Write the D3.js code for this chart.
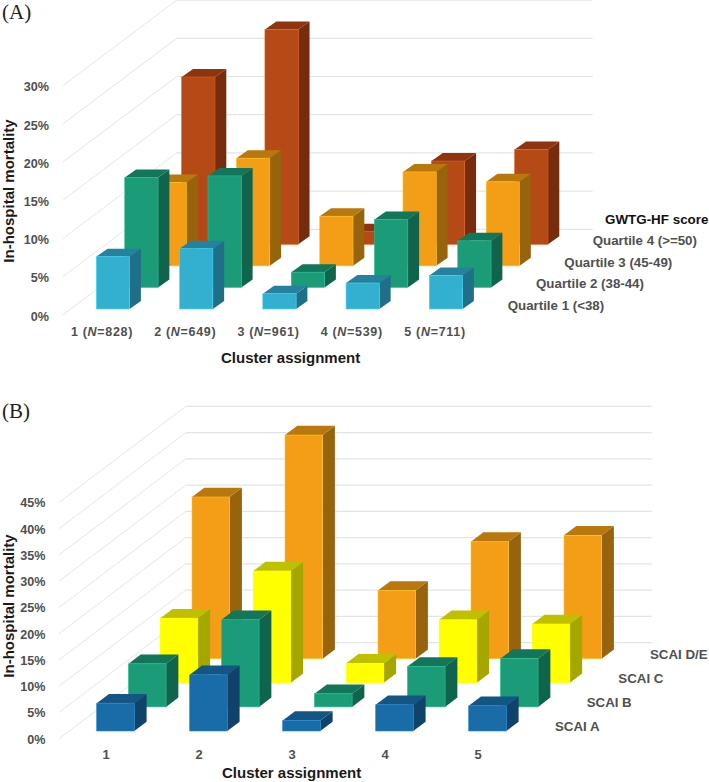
<!DOCTYPE html>
<html>
<head>
<meta charset="utf-8">
<script src="https://cdn.jsdelivr.net/npm/d3@7"></script>
<style>
	html, body { margin:0; padding:0; background:#fff; }
	text { font-family:"Liberation Sans", Arial, sans-serif; font-weight:bold; }
	.tag { font-family:"Liberation Serif", serif; font-weight:normal; font-size:21px; fill:#222; }
	.title { font-size:15px; fill:#1a1a1a; }
	.tick-y text { font-size:12.6px; fill:#505050; }
	.legend { font-size:13.3px; fill:#505050; }
</style>
</head>
<body>
<svg id="chart" width="709" height="782"></svg>
<script>
// Panel A values, % in-hospital mortality per cluster
const clustersA = ['828','649','961','539','711'];
const quartile1 = [6.85, 7.9, 2.0, 3.4, 4.4];
const quartile2 = [14.4, 14.6, 2.0, 8.9, 6.1];
const quartile3 = [10.9, 14.1, 6.5, 12.3, 11.0];
const quartile4 = [21.9, 28.1, 1.65, 10.9, 12.4];
const quartileNames = ['Quartile 1 (<38)','Quartile 2 (38-44)','Quartile 3 (45-49)','Quartile 4 (>=50)'];
const ticksA = [0,5,10,15,20,25,30];

// Panel B values
const clustersB = ['1','2','3','4','5'];
const scaiA = [5.3, 10.7, 2.0, 5.0, 4.8];
const scaiB = [8.2, 16.6, 2.5, 7.7, 9.2];
const scaiC = [12.3, 21.3, 3.7, 12.0, 11.2];
const scaiDE = [30.8, 42.6, 13.0, 22.3, 23.5];
const scaiNames = ['SCAI A','SCAI B','SCAI C','SCAI D/E'];
const ticksB = [0,5,10,15,20,25,30,35,40,45];

// front, top, side
const blue = ['#33afd0','#26819f','#206f89'];
const green = ['#1c9b78','#137559','#10634c'];
const orange = ['#f39e16','#b8780d','#97630d'];
const rust = ['#b64a16','#8e3510','#772c0e'];
const yellow = ['#ffff00','#c0c000','#a6a600'];
const navy = ['#1a6ca8','#155583','#11426c'];

const svg = d3.select('#chart');

function drawPanel(p){
	const g = svg.append('g');

	// clusters run left to right, series run into the page
	const scaleX = d3.scalePoint().domain(d3.range(5)).range(p.barX);
	const depthX = d3.scalePoint().domain(d3.range(4)).range([0,p.seriesDx]);
	const depthY = d3.scalePoint().domain(d3.range(4)).range([0,p.seriesDy]);
	const scaleH = d3.scaleLinear().domain([0,p.yMax]).range([0,p.yMax*p.pxPerPct]);
	const backY = d3.scaleLinear().domain([0,p.yMax]).range([p.backY0,p.backY0 - scaleH(p.yMax)]);
	const frontY = d3.scaleLinear().domain([0,p.yMax]).range([p.frontY0,p.frontY0 - scaleH(p.yMax)]);

	//Walls
	const grid = g.append('g').selectAll('g')
		.data(p.ticks)
		.join('g');
	grid.append('line')
		.attr('x1',p.wallX[0])
		.attr('y1',d => frontY(d))
		.attr('x2',p.wallX[1])
		.attr('y2',d => backY(d))
		.attr('stroke','#e6e6e6')
		.attr('stroke-width',1);
	grid.append('line')
		.attr('x1',p.wallX[1])
		.attr('y1',d => backY(d))
		.attr('x2',p.wallX[2])
		.attr('y2',d => backY(d))
		.attr('stroke','#e4e4e4')
		.attr('stroke-width',1.2);

	//Bars, back row first so the front rows cover them
	const bars = [];
	d3.range(3,-1,-1).forEach(s => {
		p.series[s].forEach((v,c) => bars.push({s,c,v}));
	});

	const bar = g.append('g').selectAll('g')
		.data(bars)
		.join('g')
		.attr('transform',d => `translate(${scaleX(d.c)+depthX(d.s)},${p.baseY+depthY(d.s)})`);

	const w = p.barW, dx = p.barDx, dy = p.barDy;
	bar.append('path')
		.attr('d',d => {
			const h = scaleH(d.v);
			return `M${w},0L${w+dx},${dy}L${w+dx},${dy-h}L${w},${-h}Z`;
		})
		.attr('fill',d => p.colors[d.s][2]);
	bar.append('path')
		.attr('d',d => {
			const h = scaleH(d.v);
			return `M0,${-h}L${dx},${dy-h}L${w+dx},${dy-h}L${w},${-h}Z`;
		})
		.attr('fill',d => p.colors[d.s][1]);
	bar.append('rect')
		.attr('y',d => -scaleH(d.v))
		.attr('width',w)
		.attr('height',d => scaleH(d.v))
		.attr('fill',d => p.colors[d.s][0])
		.attr('stroke',d => d3.color(p.colors[d.s][0]).brighter(0.6))
		.attr('stroke-width',0.6);

	//Axes
	const axisY = d3.axisLeft(frontY)
		.tickValues(p.ticks)
		.tickSize(0)
		.tickPadding(0)
		.tickFormat(d => `${d}%`);
	const axisYNode = g.append('g')
		.attr('class','tick-y')
		.attr('transform',`translate(${p.tickRight},${p.tickDy})`)
		.call(axisY);
	axisYNode.select('.domain').remove();

	const axisXScale = d3.scalePoint().domain(d3.range(5)).range(p.labelX);
	const axisX = d3.axisBottom(axisXScale)
		.tickSize(0)
		.tickPadding(0)
		.tickFormat(d => p.clusters[d]);
	const axisXNode = g.append('g')
		.attr('transform',`translate(0,${p.labelY})`)
		.call(axisX);
	axisXNode.select('.domain').remove();
	axisXNode.selectAll('text')
		.attr('y',0)
		.attr('dy','0.35em')
		.attr('font-size',p.labelSize)
		.attr('fill','#505050')
		.style('letter-spacing',p.labelSpacing)
		.each(function(d,i){
			if(!p.withN) return;
			const t = d3.select(this).text(null);
			t.append('tspan').text(`${i+1} (`);
			t.append('tspan').attr('font-style','italic').text('N');
			t.append('tspan').text(`=${p.clusters[d]})`);
		});

	//Titles
	g.append('text')
		.attr('class','tag')
		.attr('x',2)
		.attr('y',p.tagY)
		.text(p.tag);
	g.append('text')
		.attr('class','title')
		.attr('transform',`translate(${p.yTitle[0]},${p.yTitle[1]}) rotate(-90)`)
		.attr('text-anchor','middle')
		.attr('dy','0.35em')
		.text('In-hospital mortality');
	g.append('text')
		.attr('class','title')
		.attr('x',p.xTitle[0])
		.attr('y',p.xTitle[1])
		.attr('dy','0.35em')
		.text('Cluster assignment');

	//Depth labels beside the rows
	const legendX = d3.scalePoint().domain(d3.range(4)).range(p.legendX);
	const legendY = d3.scalePoint().domain(d3.range(4)).range(p.legendY);
	g.append('g').selectAll('text')
		.data(p.names)
		.join('text')
		.attr('class','legend')
		.attr('x',(d,i) => legendX(i))
		.attr('y',(d,i) => legendY(i))
		.attr('dy','0.35em')
		.text(d => d);
	if(p.legendTitle){
		g.append('text')
			.attr('x',605)
			.attr('y',219)
			.attr('dy','0.35em')
			.attr('font-size',13.4)
			.attr('fill','#111')
			.text(p.legendTitle);
	}
}

drawPanel({
	tag:'(A)', tagY:19,
	clusters:clustersA, withN:true,
	series:[quartile1,quartile2,quartile3,quartile4],
	colors:[blue,green,orange,rust],
	names:quartileNames, legendTitle:'GWTG-HF score',
	ticks:ticksA, yMax:30, pxPerPct:7.64,
	barX:[96.3,429.3], barW:33.3, barDx:11.3, barDy:-8,
	seriesDx:85.4, seriesDy:-64.7, baseY:309,
	wallX:[62.7,176.7,592.7], backY0:229.3, frontY0:315,
	tickRight:49, tickDy:1,
	labelX:[101.5,434.5], labelY:332, labelSize:12.5, labelSpacing:'0.7px',
	yTitle:[8.5,191], xTitle:[221,358],
	legendX:[507.7,592.7], legendY:[305,240.7]
});

drawPanel({
	tag:'(B)', tagY:418,
	clusters:clustersB, withN:false,
	series:[scaiA,scaiB,scaiC,scaiDE],
	colors:[navy,green,yellow,orange],
	names:scaiNames, legendTitle:null,
	ticks:ticksB, yMax:45, pxPerPct:5.25,
	barX:[96.7,468.7], barW:37.6, barDx:12.3, barDy:-9.3,
	seriesDx:95.3, seriesDy:-72.3, baseY:731,
	wallX:[59,185.7,651.7], backY0:642.7, frontY0:738.7,
	tickRight:45.5, tickDy:0.5,
	labelX:[105.7,477.7], labelY:754.5, labelSize:13, labelSpacing:'0',
	yTitle:[8.5,606], xTitle:[222,773],
	legendX:[555,650], legendY:[726.7,654.3]
});
</script>
</body>
</html>
